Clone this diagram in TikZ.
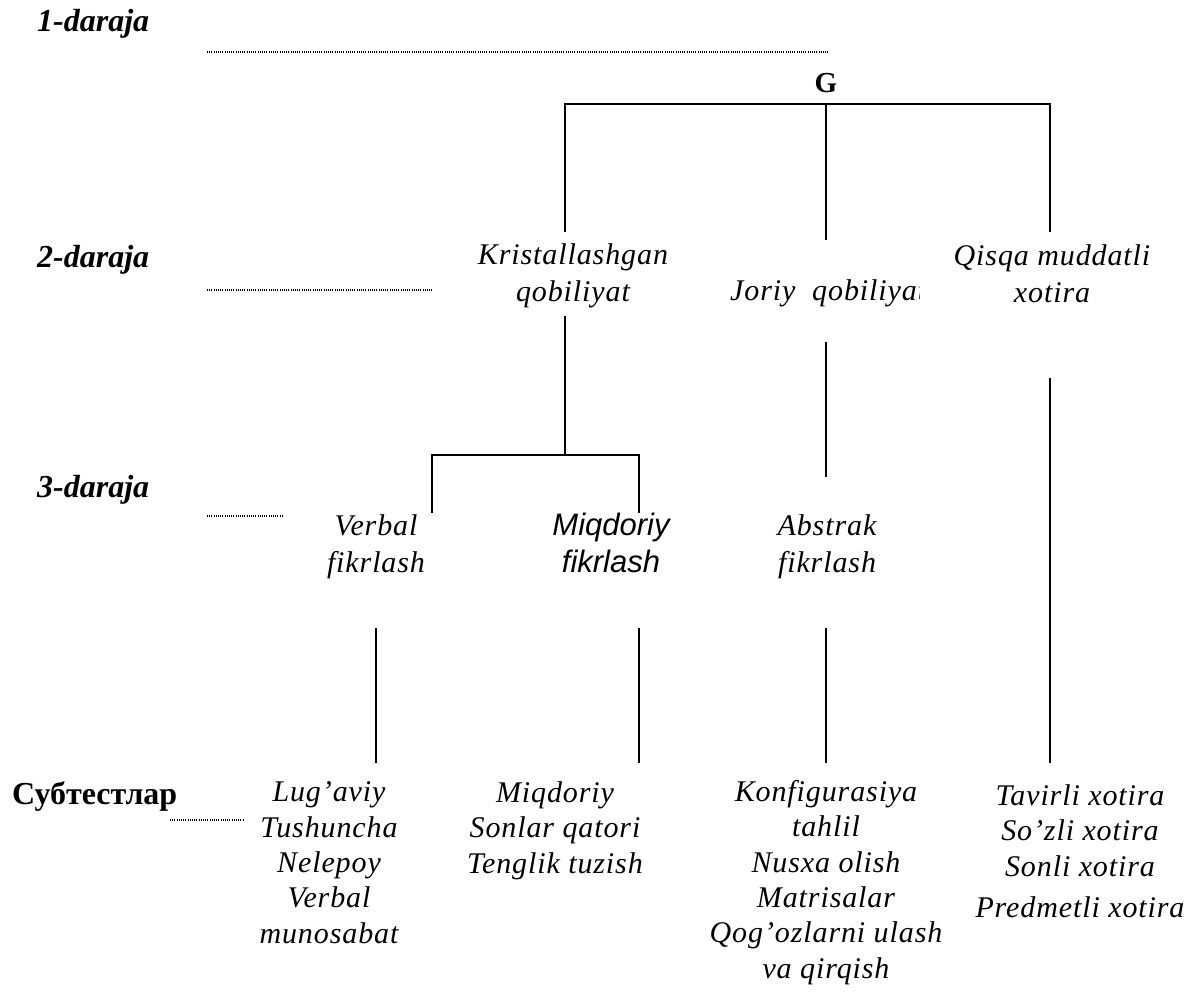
\documentclass[tikz,border=0pt]{standalone}
\usepackage{fontspec}
\setmainfont{Liberation Serif}
\newfontfamily\spacedserif{Liberation Serif}[LetterSpace=3]
\newfontfamily\arialfont{Liberation Sans}
\usetikzlibrary{positioning}
\tikzset{
level label/.style={anchor=base west, inner sep=0pt, font=\fontsize{32}{34}\selectfont\bfseries\itshape},
ability/.style={anchor=base, inner sep=0pt, align=center, font=\fontsize{30}{36.5}\selectfont\spacedserif\itshape},
subtest/.style={anchor=base, inner sep=0pt, align=center, font=\fontsize{30}{35.3}\selectfont\spacedserif\itshape},
tree line/.style={line width=1.8pt},
guide/.style={line width=1.3pt, dash pattern=on 1pt off 1.2pt}
}
\begin{document}
\begin{tikzpicture}[x=1pt, y=-1pt]
\useasboundingbox (0,0) rectangle (1195,994);
% level labels
\node[level label] (lv1) at (37,31) {1-daraja};
\node[level label] (lv2) at (37,267) {2-daraja};
\node[level label] (lv3) at (37,497) {3-daraja};
\node[level label, font=\fontsize{32}{34}\selectfont\bfseries] (lvs) at (12,804) {Субтестлар};
% dotted guides
\coordinate (d1a) at (207,52); \coordinate (d1b) at (828,52);
\coordinate (d2a) at (207,290); \coordinate (d2b) at (432,290);
\coordinate (d3a) at (207,516); \coordinate (d3b) at (282,516);
\coordinate (d4a) at (170,820); \coordinate (d4b) at (244,820);
\draw[guide] (d1a) -- (d1b);
\draw[guide] (d2a) -- (d2b);
\draw[guide] (d3a) -- (d3b);
\draw[guide] (d4a) -- (d4b);
% top factor
\node[anchor=base, inner sep=0pt, font=\fontsize{29}{32}\selectfont\bfseries] (g) at (826,92) {G};
% abilities (base = last line)
\node[ability] (krist) at (573,301) {Kristallashgan\\qobiliyat};
\begin{scope}
\clip (0,0) rectangle (919,994);
\node[ability, anchor=base west] (joriy) at (730,300) {Joriy\ \ qobiliyat};
\end{scope}
\node[ability] (qisqa) at (1052,302) {Qisqa muddatli\\xotira};
\node[ability] (verbal) at (376,572) {Verbal\\fikrlash};
\node[ability, font=\fontsize{31}{36.5}\selectfont\arialfont\itshape] (miqd) at (611,572) {Miqdoriy\\fikrlash};
\node[ability] (abstr) at (827,572) {Abstrak\\fikrlash};
% subtests
\node[subtest] (sverb) at (329,943) {Lug’aviy\\Tushuncha\\Nelepoy\\Verbal\\munosabat};
\node[subtest] (smiqd) at (555,873) {Miqdoriy\\Sonlar qatori\\Tenglik tuzish};
\node[subtest] (sabst) at (826,978) {Konfigurasiya\\tahlil\\Nusxa olish\\Matrisalar\\Qog’ozlarni ulash\\va qirqish};
\node[subtest] (sxot) at (1080,917) {Tavirli xotira\\So’zli xotira\\Sonli xotira\\[5.5pt]Predmetli xotira};
% tree lines
\coordinate (gL) at (565,104); \coordinate (gM) at (826,104); \coordinate (gR) at (1050,104);
\coordinate (kT) at (565,232); \coordinate (jT) at (826,240); \coordinate (qT) at (1050,232);
\draw[tree line] (kT) -- (gL) -- (gR) -- (qT);
\draw[tree line] (gM) -- (jT);
\coordinate (kB) at (565,316); \coordinate (kJ) at (565,455);
\coordinate (vJ) at (432,455); \coordinate (mJ) at (639,455);
\coordinate (vT) at (432,513); \coordinate (mT) at (639,513);
\draw[tree line] (kB) -- (kJ);
\draw[tree line] (vT) -- (vJ) -- (mJ) -- (mT);
\coordinate (jB) at (826,342); \coordinate (aT) at (826,477);
\draw[tree line] (jB) -- (aT);
\coordinate (qB) at (1050,378); \coordinate (xT) at (1050,763);
\draw[tree line] (qB) -- (xT);
\coordinate (vB) at (376,628); \coordinate (svT) at (376,763);
\coordinate (mB) at (639,628); \coordinate (smT) at (639,763);
\coordinate (aB) at (826,628); \coordinate (saT) at (826,763);
\draw[tree line] (vB) -- (svT);
\draw[tree line] (mB) -- (smT);
\draw[tree line] (aB) -- (saT);
\end{tikzpicture}
\end{document}
